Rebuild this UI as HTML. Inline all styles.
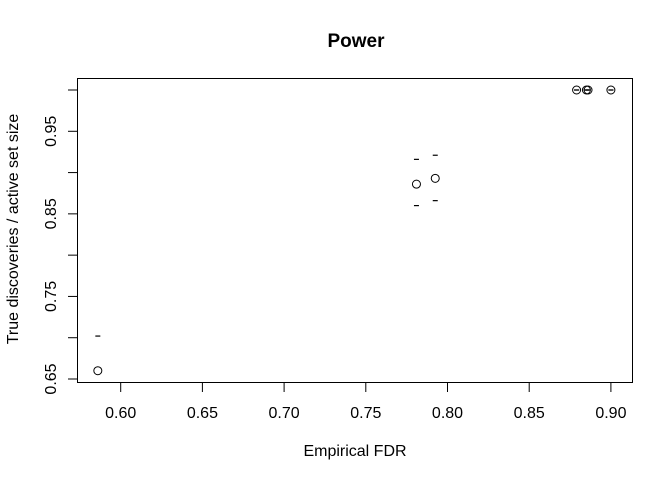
<!DOCTYPE html>
<html><head><meta charset="utf-8"><style>
body{margin:0;background:#fff}
svg{display:block;font-family:"Liberation Sans",sans-serif}
</style></head><body>
<svg id="chart" width="672" height="480" viewBox="0 0 672 480" xmlns="http://www.w3.org/2000/svg">
<rect width="672" height="480" fill="#fff"/>
<text x="356" y="47" text-anchor="middle" font-size="19" font-weight="bold">Power</text>
<text x="355" y="456" text-anchor="middle" font-size="16">Empirical FDR</text>
<text transform="translate(18,229) rotate(-90)" text-anchor="middle" font-size="16">True discoveries / active set size</text>
<rect x="77.5" y="78.5" width="555" height="304" fill="none" stroke="#000"/>
<g id="xaxis"></g>
<g id="yaxis"></g>
<g id="marks"></g>
</svg>
<script>
const xTicks=[0.60,0.65,0.70,0.75,0.80,0.85,0.90];
const xTickLabels=["0.60","0.65","0.70","0.75","0.80","0.85","0.90"];
const yTicks=[0.65,0.75,0.85,0.95];
const yTickLabels=["0.65","0.75","0.85","0.95"];
const yMinorTicks=[0.65,0.70,0.75,0.80,0.85,0.90,0.95,1.00];
const fdr=[0.586,0.781,0.7925,0.879,0.885,0.886,0.90];
const power=[0.66,0.886,0.893,1.0,1.0,1.0,1.0];
const upper=[0.702,0.916,0.921,1.0,1.0,1.0,1.0];
const lower=[null,0.860,0.866,1.0,1.0,1.0,1.0];
const NS="http://www.w3.org/2000/svg";
const sx=v=>120.7+(v-0.60)*1634;
const sy=v=>379-(v-0.65)*825.7;
function mk(tag,attrs,parent){const e=document.createElementNS(NS,tag);for(const k in attrs)e.setAttribute(k,attrs[k]);parent.appendChild(e);return e;}
const xa=document.getElementById('xaxis'),ya=document.getElementById('yaxis'),mg=document.getElementById('marks');
xTicks.forEach((t,i)=>{
  const l=mk('line',{x1:sx(t),x2:sx(t),y1:382,y2:392,stroke:'#000'},xa);
  
  
  const tx=mk('text',{x:sx(t),y:418,'text-anchor':'middle','font-size':16},xa);
  tx.textContent=xTickLabels[i];
  
  
});
yMinorTicks.forEach(t=>{
  const l=mk('line',{x1:68,x2:77.5,y1:sy(t),y2:sy(t),stroke:'#000'},ya);
  
  
});
yTicks.forEach((t,i)=>{
  const tx=mk('text',{transform:`translate(56,${sy(t)}) rotate(-90)`,'text-anchor':'middle','font-size':16},ya);
  tx.textContent=yTickLabels[i];
  
  
});
fdr.forEach((f,i)=>{
  const c=mk('circle',{cx:sx(f),cy:sy(power[i]),r:4,fill:'none',stroke:'#000','stroke-width':1},mg);
  
  
  [upper[i],lower[i]].forEach(v=>{
    if(v===null)return;
    const d=mk('line',{x1:sx(f)-2.5,x2:sx(f)+2.5,y1:sy(v),y2:sy(v),stroke:'#000','stroke-width':1.2},mg);
    
    
  });
});
</script>
</body></html>
